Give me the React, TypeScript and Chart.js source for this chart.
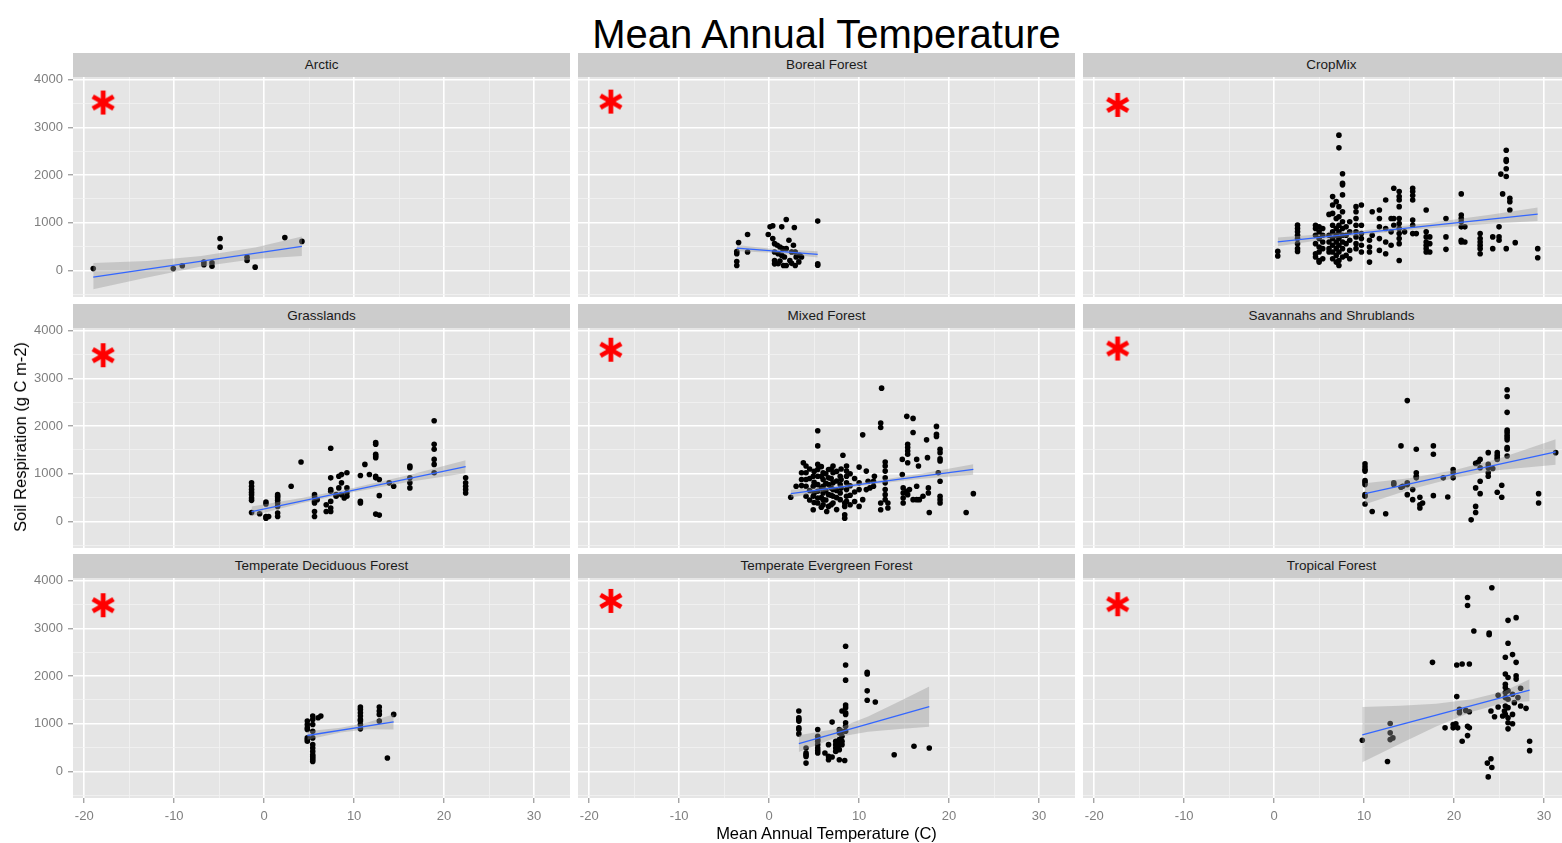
import { useEffect, useRef } from 'react';
import { Chart, registerables } from 'chart.js';

Chart.register(...registerables);

const FONT = "'Liberation Sans', Arial, Helvetica, sans-serif";

// facet titles, reading order
const biomes = [
  'Arctic',
  'Boreal Forest',
  'CropMix',
  'Grasslands',
  'Mixed Forest',
  'Savannahs and Shrublands',
  'Temperate Deciduous Forest',
  'Temperate Evergreen Forest',
  'Tropical Forest',
];

// [mean annual temperature (C), soil respiration values (g C m-2) at that temperature]
type Col = [number, number[]];

const arctic: Col[] = [
  [-19.0, [40]], [-10.1, [40]], [-9.1, [100]], [-6.7, [175, 120]], [-5.8, [160, 90]],
  [-4.9, [670, 490]], [-1.9, [280, 210]], [-1.0, [70]], [2.3, [690]], [4.2, [610]],
];

const boreal: Col[] = [
  [-3.6, [400, 352, 190, 106]], [-3.4, [585]], [-2.4, [754, 387]], [-0.1, [754]], [0.1, [915]],
  [0.4, [937, 669]], [0.6, [563, 387, 211, 140]], [0.9, [528]], [1.0, [352, 141]], [1.2, [493, 200]],
  [1.4, [915, 317]], [1.5, [458]], [1.6, [106]], [1.7, [282]], [1.9, [1070, 458, 106]], [2.2, [634]],
  [2.3, [211]], [2.5, [387, 150]], [2.7, [528]], [2.8, [900]], [2.9, [387, 106]], [3.0, [282]],
  [3.3, [180]], [3.4, [317]], [3.6, [282]], [5.4, [1035, 140, 110]],
];

const cropMix: Col[] = [
  [0.4, [401, 303]],
  [2.6, [951, 880, 810, 739, 669, 563, 458, 401]],
  [4.6, [950, 880, 739, 563, 352, 282]],
  [5.0, [915, 810, 669, 493, 387, 211, 176]],
  [5.4, [880, 739, 598, 458, 246]],
  [6.1, [1176, 739, 598, 458, 387]],
  [6.5, [1549, 1373, 1197, 950, 810, 669, 528, 387, 246]],
  [6.9, [1443, 1091, 880, 739, 598, 458, 317, 176]],
  [7.2, [2837, 2570, 1338, 1126, 950, 810, 669, 528, 387, 211, 106]],
  [7.6, [2028, 1830, 1795, 1584, 1232, 1021, 880, 739, 598, 458, 282]],
  [8.0, [915, 739, 563, 317]],
  [8.4, [1021, 810, 634, 422, 246]],
  [9.1, [1338, 1232, 1091, 950, 810, 704, 563, 458]],
  [9.7, [1373, 950, 774, 669, 528, 387]],
  [10.6, [634, 493, 387, 176]],
  [10.9, [1232, 739]],
  [11.7, [1267, 1091, 915, 669, 422]],
  [12.4, [1478, 880, 598, 352]],
  [13.0, [1091, 810, 528]],
  [13.3, [1725, 1091, 950]],
  [13.9, [1654, 1549, 1478, 1338, 1091, 986, 880, 774, 669, 563, 211]],
  [14.5, [810]],
  [15.4, [1725, 1654, 1570, 1478, 1056, 950, 774]],
  [15.8, [774]],
  [16.9, [1267, 810, 704, 598, 528, 458, 387]],
  [17.3, [704, 563, 387]],
  [19.1, [1091, 704, 444]],
  [20.8, [1605, 1162, 1091, 1021, 915, 634, 598]],
  [21.2, [915, 598]],
  [22.9, [774, 669, 598, 528, 458, 352]],
  [24.3, [704, 458]],
  [25.0, [915, 704, 634]],
  [25.2, [2020]],
  [25.4, [1605]],
  [25.8, [2520, 2323, 2288, 2133, 1971, 458]],
  [26.2, [1514, 1443, 1267]],
  [26.8, [584]],
  [29.3, [458, 268]],
];

const grasslands: Col[] = [
  [-1.4, [810, 739, 669, 613, 563, 493, 444, 190]], [-0.5, [162]], [0.2, [408, 366, 106, 70]],
  [0.5, [106]], [1.5, [563, 528, 493, 444, 387, 317, 176, 106]], [3.0, [739]], [4.1, [1246]],
  [5.6, [563, 514, 422, 387, 211, 106]], [5.9, [458]], [6.9, [352, 211]],
  [7.4, [1535, 915, 669, 634, 422, 282, 211]], [8.0, [563, 528]], [8.3, [950, 704]],
  [8.6, [986, 810, 563]], [8.9, [493]], [9.2, [1021, 704, 598, 528]], [10.7, [964, 422, 387]],
  [11.2, [1197]], [11.7, [986]], [12.4, [1654, 1619, 1408, 1373, 1338, 950, 915, 155]],
  [12.8, [880, 542, 134]], [13.9, [810]], [14.4, [739]], [16.2, [1162, 1126, 915, 810, 704]],
  [18.9, [2112, 1619, 1514, 1302, 1197, 1021]], [22.4, [915, 810, 739, 669, 598]],
];

const mixedForest: Col[] = [
  [2.4, [507]], [3.0, [739]], [3.6, [1021, 880, 753]], [3.8, [1232]],
  [4.1, [1162, 1021, 880, 739, 528]], [4.5, [1100, 900, 650, 450]], [4.9, [950, 739, 528, 246]],
  [5.0, [1050, 820, 600, 400]], [5.4, [1901, 1584, 1197, 1091, 950, 774, 634, 493, 387]],
  [5.8, [1150, 950, 700, 500, 300]], [6.0, [1021, 880, 739, 598, 458, 352]], [6.3, [1000, 800, 650, 450]],
  [6.4, [211]], [6.6, [1091, 915, 774, 563, 317]], [6.9, [1100, 900, 700, 550, 350]],
  [7.1, [1162, 1021, 810, 669, 528, 387]], [7.5, [1050, 850, 650, 500, 250]], [7.9, [950, 774, 598, 458]],
  [8.0, [1100, 880, 700]], [8.2, [1387]], [8.4, [387, 317, 141, 70]],
  [8.6, [1162, 1056, 950, 810, 669, 528, 422]], [9.0, [1000, 750, 550, 350]], [9.5, [900, 620, 420]],
  [10.0, [1140, 810, 669, 317]], [10.4, [1816, 458]], [10.8, [1056, 669]], [11.0, [845]], [11.2, [704]],
  [11.6, [845, 739]], [11.7, [950]], [12.4, [2063, 1971, 387, 246]], [12.5, [2795]],
  [12.9, [1246, 1162, 1056, 915, 810, 669, 563, 458]], [13.2, [387, 282]], [14.8, [1302, 986]],
  [14.9, [704, 598, 493, 387]], [15.3, [2204, 634]], [15.4, [1619, 1549, 1478, 1408, 1232, 563]],
  [15.6, [669]], [16.0, [2161, 1866, 458]], [16.4, [1302, 739, 458]], [16.6, [1162]], [16.7, [458]],
  [17.1, [528]], [17.5, [1711]], [17.6, [1338]], [17.7, [704, 598]], [17.8, [190]],
  [18.6, [1993, 1830, 1781]], [18.8, [1021]], [19.0, [1514, 1443, 1316, 1267, 845, 528, 458, 387]],
  [21.9, [190]], [22.7, [584]],
];

const savannahs: Col[] = [
  [10.1, [1211, 1148, 1091, 1056, 859, 824, 774, 563, 528, 366]], [10.9, [211]], [12.4, [162]],
  [13.3, [810, 774]], [14.1, [1584, 718]], [14.3, [739]], [14.8, [2534, 810, 774, 563]],
  [15.4, [669, 458]], [15.8, [1514, 1021, 950, 915]], [16.2, [507, 352, 282]], [16.5, [387]],
  [17.7, [1584, 1408, 542]], [18.8, [915]], [19.3, [514]], [19.9, [1091, 1021, 915]], [21.9, [35]],
  [22.4, [1218, 704, 317, 190]], [22.7, [1246]], [22.9, [1302, 1126, 845, 584]],
  [23.8, [1443, 1197, 1126, 1021, 950]], [24.3, [1112]], [24.8, [1443, 1387, 1338, 1302, 612]],
  [25.3, [760, 507]], [25.9, [2760, 2619, 2288, 1915, 1866, 1809, 1760, 1711, 1549, 1514, 1373]],
  [29.4, [584, 387]], [31.3, [1443]],
];

const tempDeciduous: Col[] = [
  [4.8, [1056, 986, 915, 880, 704, 669, 634]],
  [5.4, [1162, 1091, 986, 845, 704, 563, 493, 422, 352, 317, 282, 246, 211]],
  [6.0, [1126]], [6.3, [1162]], [10.7, [1352, 1302, 1232, 1162, 1091, 1056, 986, 894]],
  [12.8, [1352, 1267, 1197, 1056]], [13.7, [282]], [14.4, [1197]],
];

const tempEvergreen: Col[] = [
  [3.3, [1267, 1126, 1091, 1056, 915, 880, 788]], [4.1, [493, 387, 352, 317, 176]],
  [5.4, [880, 739, 669, 634, 563, 493, 437, 387]], [6.2, [387]], [6.6, [563, 317, 246]],
  [7.0, [1035, 303]], [7.4, [634, 563, 493, 422]], [7.8, [880, 810, 669, 563, 458, 246]],
  [8.1, [1267, 845, 739, 634, 563]], [8.4, [232]],
  [8.5, [2626, 2232, 1915, 1394, 1338, 1232, 1197, 1021, 950, 845]],
  [10.9, [2077, 2042, 1690, 1492]], [11.8, [1457]], [13.9, [352]], [16.1, [528]], [17.8, [493]],
];

const tropical: Col[] = [
  [9.8, [655]], [12.6, [211]], [12.9, [1007, 810, 669]], [13.2, [704]], [17.6, [2288]], [19.0, [915]],
  [19.9, [986, 915]], [20.2, [1000]], [20.3, [2232, 1570]], [20.4, [915]], [20.6, [1302, 1232]],
  [20.9, [2253, 634]], [21.3, [1281]], [21.5, [3647, 3478, 950, 753]], [21.7, [2253, 1253, 915]],
  [22.2, [2943]], [23.7, [176]], [23.8, [-113]], [23.9, [2900, 2865]], [24.1, [1267, 268]],
  [24.2, [3851, 85]], [24.5, [1147]], [24.9, [1598, 1352]], [25.4, [1162]], [25.6, [1267]],
  [25.7, [2394, 2042, 1830, 1760, 1654, 1549, 1373, 1197]],
  [26.0, [3168, 2689, 1971, 1690, 1514, 1338, 1126, 1021, 894]],
  [26.5, [2450, 1619, 1197, 1000]], [26.7, [1443]], [26.9, [3224, 2288, 2006, 1936]], [27.1, [1549]],
  [27.4, [1746, 1373]], [28.0, [1324]], [28.4, [634, 437]],
];

const panelPoints = [arctic, boreal, cropMix, grasslands, mixedForest, savannahs, tempDeciduous, tempEvergreen, tropical];

// linear fit end points (blue line)
const fitX = [[-19.0, 4.2], [-3.6, 5.4], [0.4, 29.3], [-1.4, 22.4], [2.4, 22.7], [10.1, 31.3], [4.8, 14.4], [3.3, 17.8], [9.8, 28.4]];
const fitY = [[-140, 507], [470, 340], [600, 1180], [205, 1148], [584, 1091], [584, 1457], [755, 1042], [584, 1359], [770, 1704]];

// confidence band
const bandX = [
  [-19, -13, -7, -1, 4.2], [-3.6, 0.5, 5.4], [0.4, 6, 12, 18, 24, 29.3], [-1.4, 4, 10, 16, 22.4],
  [2.4, 7, 12, 17, 22.7], [10.1, 15, 20, 25, 31.3], [4.8, 8.5, 11.5, 14.4], [3.3, 7.5, 11, 14.5, 17.8],
  [9.8, 14, 18, 22, 25.5, 28.4],
];
const bandLo = [
  [-390, -145, 85, 240, 305], [405, 370, 275], [510, 660, 790, 895, 980, 1040], [115, 375, 619, 828, 1013],
  [504, 659, 789, 894, 981], [364, 666, 912, 1078, 1192], [665, 816, 887, 882], [409, 718, 835, 892, 939],
  [194, 580, 941, 1252, 1438, 1474],
];
const bandHi = [
  [160, 200, 305, 480, 715], [535, 450, 405], [690, 770, 880, 1015, 1170, 1320], [315, 485, 709, 968, 1283],
  [664, 739, 859, 1004, 1201], [804, 906, 1072, 1318, 1722], [845, 916, 1027, 1202], [759, 898, 1155, 1472, 1779],
  [1354, 1380, 1421, 1512, 1678, 1934],
];

// significance asterisk per panel
const starX = [-17.9, -17.6, -17.4, -17.9, -17.6, -17.4, -17.9, -17.6, -17.4];
const starY = [3520, 3540, 3470, 3485, 3600, 3625, 3485, 3575, 3505];

const xTicks = [-20, -15, -10, -5, 0, 5, 10, 15, 20, 25, 30];
const yTicks = [-500, 0, 500, 1000, 1500, 2000, 2500, 3000, 3500, 4000];
const xLabelled = [-20, -10, 0, 10, 20, 30];
const yLabelled = [0, 1000, 2000, 3000, 4000];

const X_MIN = -21.25;
const X_MAX = 34.0;
const Y_MIN = -555;
const Y_MAX = 4055;

// page layout (px)
const COL_LEFT = [73, 578, 1083];
const STRIP_TOP = [53, 304, 554];
const PANEL_W = 497;
const STRIP_H = 24;
const PANEL_H = 220;
const Y_AXIS_W = 73;
const X_AXIS_H = 45;
const PAD_TOP = 10;

const panelBg = {
  id: 'panelBg',
  beforeDraw(chart: Chart) {
    const { ctx, chartArea: a } = chart;
    ctx.save();
    ctx.fillStyle = '#e5e5e5';
    ctx.fillRect(a.left, a.top, a.right - a.left, a.bottom - a.top);
    ctx.restore();
  },
};

function makeAsterisk() {
  const c = document.createElement('canvas');
  c.width = 28;
  c.height = 28;
  const g = c.getContext('2d');
  if (g) {
    g.strokeStyle = '#ff0000';
    g.lineWidth = 4.8;
    for (const deg of [90, 30, -30]) {
      const r = (deg * Math.PI) / 180;
      const dx = Math.cos(r) * 12;
      const dy = Math.sin(r) * 12;
      g.beginPath();
      g.moveTo(14 - dx, 14 - dy);
      g.lineTo(14 + dx, 14 + dy);
      g.stroke();
    }
  }
  return c;
}

const gridFor = (major: number[], show: boolean) => ({
  color: (c: any) => (major.includes(c.tick?.value) ? '#ffffff' : '#f2f2f2'),
  lineWidth: (c: any) => (major.includes(c.tick?.value) ? 1.6 : 0.8),
  drawTicks: show,
  tickLength: 5,
  tickWidth: 1,
  tickColor: (c: any) => (major.includes(c.tick?.value) ? '#7f7f7f' : 'rgba(0,0,0,0)'),
});

function Panel({ i }: { i: number }) {
  const ref = useRef<HTMLCanvasElement>(null);
  const row = Math.floor(i / 3);
  const col = i % 3;
  const showY = col === 0;
  const showX = row === 2;
  const w = PANEL_W + (showY ? Y_AXIS_W : 0);
  const h = PAD_TOP + PANEL_H + (showX ? X_AXIS_H : 0);
  const left = COL_LEFT[col] - (showY ? Y_AXIS_W : 0);
  const top = STRIP_TOP[row] + STRIP_H - PAD_TOP;

  useEffect(() => {
    if (!ref.current) return;
    const pts = panelPoints[i].flatMap(([t, rs]) => rs.map((r) => ({ x: t, y: r })));
    const fit = fitX[i].map((x, k) => ({ x, y: fitY[i][k] }));
    const lo = bandX[i].map((x, k) => ({ x, y: bandLo[i][k] }));
    const hi = bandX[i].map((x, k) => ({ x, y: bandHi[i][k] }));

    const chart = new Chart(ref.current, {
      type: 'scatter',
      data: {
        datasets: [
          { type: 'scatter', data: [{ x: starX[i], y: starY[i] }], pointStyle: makeAsterisk(), pointRadius: 12, order: 0 },
          { type: 'line', data: fit, borderColor: '#3366ff', borderWidth: 1.3, pointRadius: 0, fill: false, order: 1 },
          { type: 'line', data: lo, borderColor: 'rgba(0,0,0,0)', borderWidth: 0, pointRadius: 0, fill: false, order: 3 },
          {
            type: 'line', data: hi, borderColor: 'rgba(0,0,0,0)', borderWidth: 0, pointRadius: 0,
            fill: '-1', backgroundColor: 'rgba(153,153,153,0.4)', order: 2,
          },
          {
            type: 'scatter', data: pts, pointRadius: 2.8, pointBackgroundColor: '#000000',
            pointBorderWidth: 0, pointBorderColor: '#000000', order: 4,
          },
        ],
      } as any,
      options: {
        animation: false,
        responsive: false,
        maintainAspectRatio: false,
        layout: { autoPadding: false, padding: { top: PAD_TOP, left: 0, right: 0, bottom: 0 } },
        plugins: { legend: { display: false }, tooltip: { enabled: false } },
        scales: {
          x: {
            type: 'linear',
            min: X_MIN,
            max: X_MAX,
            afterBuildTicks: (s: any) => { s.ticks = xTicks.map((v) => ({ value: v })); },
            afterFit: (s: any) => {
              s.height = showX ? X_AXIS_H : 0;
              s.paddingLeft = 0;
              s.paddingRight = 0;
            },
            grid: gridFor(xLabelled, showX),
            border: { display: false },
            ticks: {
              display: showX,
              autoSkip: false,
              maxRotation: 0,
              padding: 6,
              color: '#7f7f7f',
              font: { family: FONT, size: 13 },
              callback: (v: any) => (xLabelled.includes(Number(v)) ? String(v) : ''),
            },
          },
          y: {
            type: 'linear',
            min: Y_MIN,
            max: Y_MAX,
            afterBuildTicks: (s: any) => { s.ticks = yTicks.map((v) => ({ value: v })); },
            afterFit: (s: any) => {
              s.width = showY ? Y_AXIS_W : 0;
              s.paddingTop = 0;
              s.paddingBottom = 0;
            },
            grid: gridFor(yLabelled, showY),
            border: { display: false },
            ticks: {
              display: showY,
              autoSkip: false,
              padding: 5,
              color: '#7f7f7f',
              font: { family: FONT, size: 13 },
              callback: (v: any) => (yLabelled.includes(Number(v)) ? String(v) : ''),
            },
          },
        },
      } as any,
      plugins: [panelBg],
    });
    return () => chart.destroy();
  }, [i]);

  return (
    <canvas
      ref={ref}
      width={w}
      height={h}
      style={{ position: 'absolute', left, top, width: w, height: h }}
    />
  );
}

export default function App() {
  return (
    <div
      style={{
        position: 'absolute', left: 0, top: 0, width: 1562, height: 843,
        overflow: 'hidden', background: '#ffffff', fontFamily: FONT,
      }}
    >
      <div
        style={{
          position: 'absolute', left: COL_LEFT[0], width: COL_LEFT[2] + PANEL_W - COL_LEFT[0], top: 14,
          textAlign: 'center', fontSize: 40, lineHeight: '40px', color: '#000',
        }}
      >
        Mean Annual Temperature
      </div>
      {biomes.map((name, i) => (
        <div
          key={name}
          style={{
            position: 'absolute', left: COL_LEFT[i % 3], top: STRIP_TOP[Math.floor(i / 3)],
            width: PANEL_W, height: STRIP_H, background: '#cccccc', color: '#1a1a1a',
            fontSize: 13.5, lineHeight: `${STRIP_H}px`, textAlign: 'center',
          }}
        >
          {name}
        </div>
      ))}
      {biomes.map((name, i) => (
        <Panel key={'p' + name} i={i} />
      ))}
      <div
        style={{
          position: 'absolute', left: COL_LEFT[0], width: COL_LEFT[2] + PANEL_W - COL_LEFT[0], top: 823,
          textAlign: 'center', fontSize: 16.5, lineHeight: '20px', color: '#000',
        }}
      >
        Mean Annual Temperature (C)
      </div>
      <div
        style={{
          position: 'absolute', left: 20, top: 437, whiteSpace: 'nowrap',
          transform: 'translate(-50%, -50%) rotate(-90deg)', fontSize: 16.5, lineHeight: '20px', color: '#000',
        }}
      >
        Soil Respiration (g C m-2)
      </div>
    </div>
  );
}
